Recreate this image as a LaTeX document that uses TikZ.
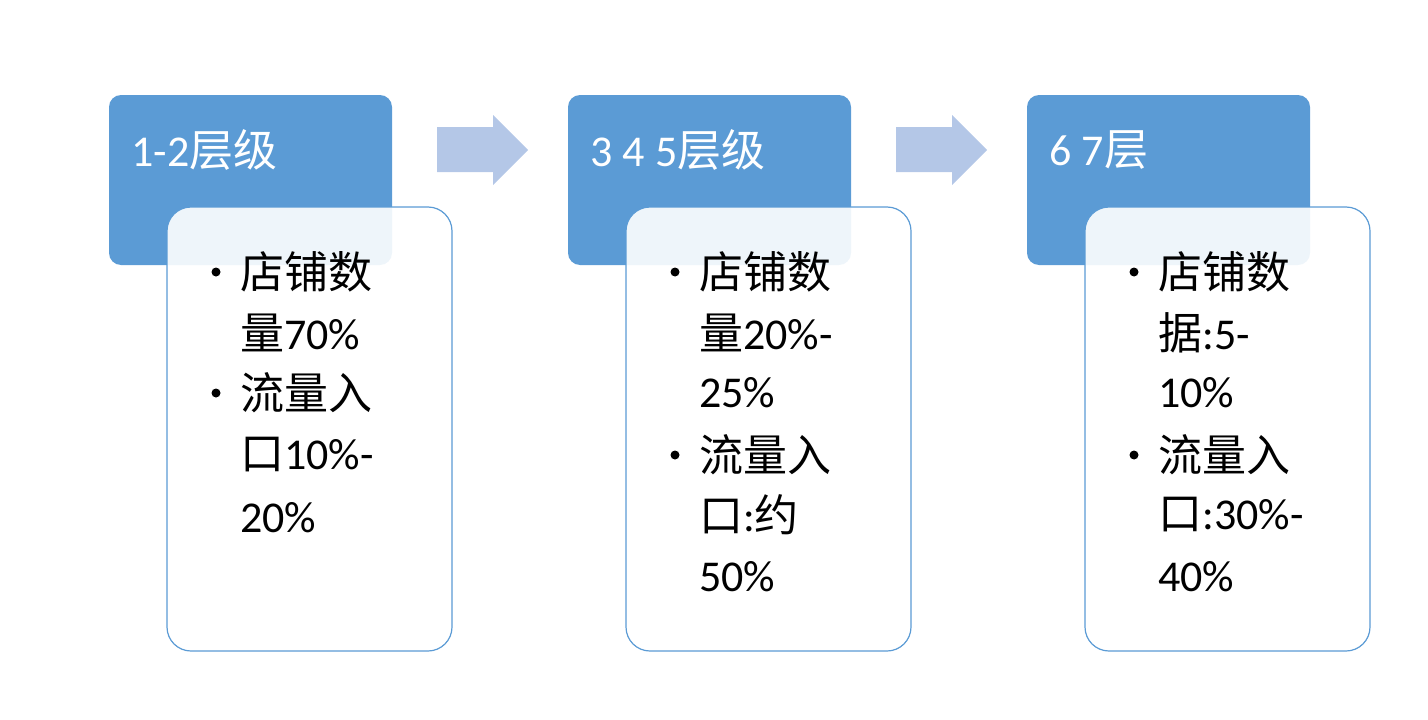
\documentclass[tikz,border=0pt]{standalone}
\usepackage{fontspec}
\setmainfont{Carlito}
\newfontfamily\cjk{Noto Sans CJK SC}
\newcommand{\C}[1]{{\cjk #1}}
\definecolor{hb}{HTML}{5B9BD5}
\definecolor{ab}{HTML}{B4C7E7}
\begin{document}
\begin{tikzpicture}[x=1pt,y=-1pt,
 hdr/.style={fill=hb,rounded corners=12pt},
 body/.style={fill=white,fill opacity=0.9,draw=hb,line width=1.2pt,rounded corners=24pt},
 ht/.style={anchor=west,text=white,font=\fontsize{44}{48}\selectfont},
 ln/.style={anchor=west,inner sep=0pt,font=\fontsize{44}{48}\selectfont},
 bl/.style={circle,fill=black,inner sep=0pt,minimum size=9pt}]
\useasboundingbox (0,0) rectangle (1428,720);
\foreach \x/\n in {0/a,459/b,918/c}{
 \fill[hdr] (109+\x,95) rectangle (392+\x,265);
 \filldraw[body] (167+\x,207) rectangle (452+\x,651);
}
\foreach \x/\n in {0/p,459/q}{
 \fill[ab] (437+\x,127) -- (493+\x,127) -- (493+\x,115) -- (528+\x,150) -- (493+\x,185) -- (493+\x,172) -- (437+\x,172) -- cycle;
}
\node[ht] (h1) at (128,150) {1-2\C{层级}};
\node[ht] (h2) at (587,150) {3 4 5\C{层级}};
\node[ht] (h3) at (1046,150) {6 7\C{层}};
% box1
\node[bl] (b11) at (216,272) {}; \node[bl] (b12) at (216,393) {};
\node[ln] (t11) at (240,272) {\C{店铺数}};
\node[ln] (t12) at (240,333) {\C{量}70\%};
\node[ln] (t13) at (240,393) {\C{流量入}};
\node[ln] (t14) at (240,455) {\C{口}10\%-};
\node[ln] (t15) at (240,518) {20\%};
% box2
\node[bl] (b21) at (675,272) {}; \node[bl] (b22) at (675,455) {};
\node[ln] (t21) at (699,272) {\C{店铺数}};
\node[ln] (t22) at (699,333) {\C{量}20\%-};
\node[ln] (t23) at (699,393) {25\%};
\node[ln] (t24) at (699,455) {\C{流量入}};
\node[ln] (t25) at (699,515) {\C{口}:\C{约}};
\node[ln] (t26) at (699,577) {50\%};
% box3
\node[bl] (b31) at (1134,272) {}; \node[bl] (b32) at (1134,455) {};
\node[ln] (t31) at (1158,272) {\C{店铺数}};
\node[ln] (t32) at (1158,333) {\C{据}:5-};
\node[ln] (t33) at (1158,393) {10\%};
\node[ln] (t34) at (1158,455) {\C{流量入}};
\node[ln] (t35) at (1158,515) {\C{口}:30\%-};
\node[ln] (t36) at (1158,577) {40\%};
\end{tikzpicture}
\end{document}
